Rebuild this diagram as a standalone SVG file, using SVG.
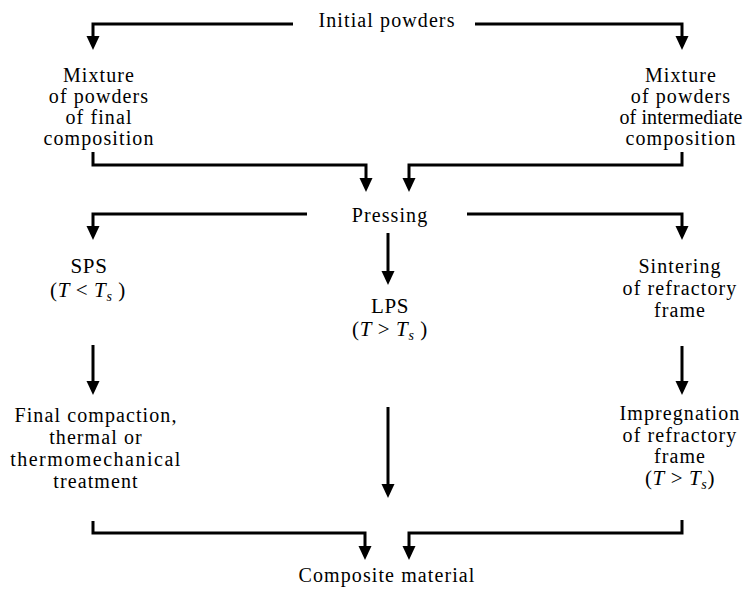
<svg xmlns="http://www.w3.org/2000/svg" width="744" height="591" viewBox="0 0 744 591" font-family="Liberation Serif, DejaVu Serif, serif">
<style>
  text { fill: #000; text-anchor: middle; }
  .t { font-size: 20px; letter-spacing: 1.1px; }
  .m { font-size: 21px; letter-spacing: 0.6px; }
  .i { font-style: italic; }
  .c { fill: none; stroke: #000; stroke-width: 3; marker-end: url(#ah); }
</style>
<defs>
  <marker id="ah" markerUnits="userSpaceOnUse" viewBox="0 0 14 14" refX="4" refY="7" markerWidth="14" markerHeight="14" orient="auto">
    <path d="M0,0.5 L14,7 L0,13.5 z" fill="#000"/>
  </marker>
</defs>
<rect width="744" height="591" fill="#fff"/>

<g id="connectors">
  <path class="c" d="M293,24 H93 V40"/>
  <path class="c" d="M475,24 H682 V40"/>
  <path class="c" d="M93,152 V165 H366 V182"/>
  <path class="c" d="M682,152 V165 H409 V182"/>
  <path class="c" d="M307,214 H93 V230"/>
  <path class="c" d="M467,214 H682 V230"/>
  <path class="c" d="M388,233 V275"/>
  <path class="c" d="M93,345 V385"/>
  <path class="c" d="M682,346 V385"/>
  <path class="c" d="M388,407 V488"/>
  <path class="c" d="M93,521 V533 H365 V550"/>
  <path class="c" d="M682,520 V533 H409 V550"/>
</g>

<g id="initial">
  <text class="t" x="387" y="27">Initial powders</text>
</g>
<g id="mix-final">
  <text class="t" x="99" y="82">Mixture</text>
  <text class="t" x="99" y="103">of powders</text>
  <text class="t" x="99" y="124">of final</text>
  <text class="t" x="99" y="145">composition</text>
</g>
<g id="mix-intermediate">
  <text class="t" x="681" y="82">Mixture</text>
  <text class="t" x="681" y="103">of powders</text>
  <text class="t" x="681" y="124" letter-spacing="0.1" style="letter-spacing:0.1px">of intermediate</text>
  <text class="t" x="681" y="145">composition</text>
</g>
<g id="pressing">
  <text class="t" x="390" y="222">Pressing</text>
</g>
<g id="sps">
  <text class="m" x="89" y="273">SPS</text>
  <text class="m" x="88" y="297">(<tspan class="i">T</tspan> &lt; <tspan class="i">T</tspan><tspan class="i" font-size="14" dy="4">s</tspan><tspan dy="-4"> )</tspan></text>
</g>
<g id="lps">
  <text class="m" x="390" y="313">LPS</text>
  <text class="m" x="390" y="336">(<tspan class="i">T</tspan> &gt; <tspan class="i">T</tspan><tspan class="i" font-size="14" dy="4">s</tspan><tspan dy="-4"> )</tspan></text>
</g>
<g id="sintering">
  <text class="t" x="680" y="273">Sintering</text>
  <text class="t" x="680" y="295">of refractory</text>
  <text class="t" x="680" y="317">frame</text>
</g>
<g id="final-compaction">
  <text class="t" x="96" y="422">Final compaction,</text>
  <text class="t" x="96" y="444">thermal or</text>
  <text class="t" x="96" y="466" style="letter-spacing:1.5px">thermomechanical</text>
  <text class="t" x="96" y="488">treatment</text>
</g>
<g id="impregnation">
  <text class="t" x="680" y="420">Impregnation</text>
  <text class="t" x="680" y="442">of refractory</text>
  <text class="t" x="680" y="463">frame</text>
  <text class="m" x="680" y="485">(<tspan class="i">T</tspan> &gt; <tspan class="i">T</tspan><tspan class="i" font-size="14" dy="4">s</tspan><tspan dy="-4">)</tspan></text>
</g>
<g id="composite">
  <text class="t" x="387" y="582">Composite material</text>
</g>
</svg>
